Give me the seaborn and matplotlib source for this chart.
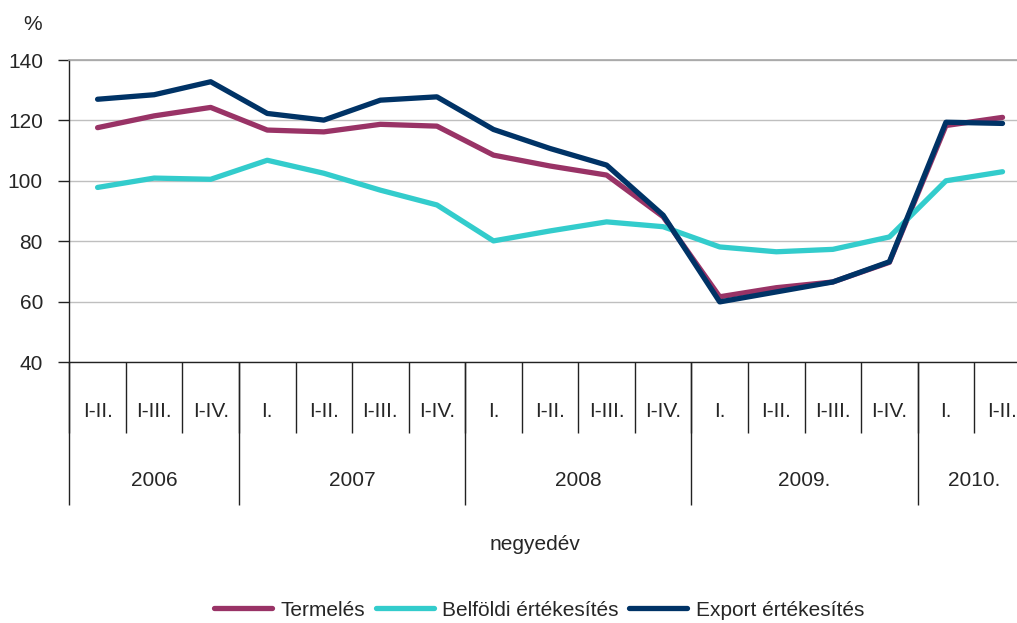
import numpy as np
import pandas as pd
import matplotlib
matplotlib.use("Agg")
import matplotlib.pyplot as plt
import seaborn as sns

# negyedéves kumulált időszakok
categories = ['I-II.', 'I-III.', 'I-IV.',
              'I.', 'I-II.', 'I-III.', 'I-IV.',
              'I.', 'I-II.', 'I-III.', 'I-IV.',
              'I.', 'I-II.', 'I-III.', 'I-IV.',
              'I.', 'I-II.']
years = ['2006', '2007', '2008', '2009.', '2010.']
year_sizes = [3, 4, 4, 4, 2]

termeles = [117.6, 121.5, 124.3, 116.8, 116.2, 118.7, 118.1, 108.5, 104.9,
            101.9, 88.1, 61.6, 64.6, 66.5, 73.0, 118.3, 121.0]
belfoldi = [97.8, 100.9, 100.5, 106.8, 102.5, 96.9, 92.0, 80.1, 83.4,
            86.4, 84.8, 78.1, 76.5, 77.3, 81.4, 100.0, 103.0]
export = [127.0, 128.5, 132.8, 122.3, 120.1, 126.7, 127.8, 117.0, 110.7,
          105.2, 88.6, 59.9, 63.2, 66.5, 73.2, 119.4, 119.0]

series_names = ['Termelés', 'Belföldi értékesítés', 'Export értékesítés']
colors = ['#993366', '#33CCCC', '#003366']

n = len(categories)
df = pd.concat([
    pd.DataFrame({'idx': np.arange(n), 'value': vals, 'series': name})
    for name, vals in zip(series_names, [termeles, belfoldi, export])
])

sns.set_theme(style="white")
plt.rcParams['font.family'] = ['Liberation Sans', 'DejaVu Sans']
FS = 15

fig = plt.figure(figsize=(10.17, 6.23), dpi=100)
ax = fig.add_axes([69.3 / 1017, 1 - 362 / 623, (1030.8 - 69.3) / 1017, 302 / 623])

sns.lineplot(data=df, x='idx', y='value', hue='series', hue_order=series_names,
             palette=colors, linewidth=3.8, ax=ax, legend=False, sort=True)
for ln in ax.get_lines():
    ln.set_solid_capstyle('round')
    ln.set_solid_joinstyle('round')

ax.set_xlim(-0.5, n - 0.5)
ax.set_ylim(40, 140)
ax.set_yticks(np.arange(40, 141, 20))
ax.yaxis.grid(True, color='#BFBFBF', linewidth=1.0)
ax.xaxis.grid(False)
ax.set_axisbelow(True)

ax.spines['right'].set_visible(False)
ax.spines['top'].set_color('#A6A6A6')
ax.spines['top'].set_linewidth(1.2)
for side in ['left', 'bottom']:
    ax.spines[side].set_color('#222222')
    ax.spines[side].set_linewidth(1.0)

ax.tick_params(axis='y', which='major', left=True, length=8, width=1.0,
               color='#222222', pad=11, labelsize=FS)

# kategória címkék és elválasztó osztásjelek
ax.set_xticks(np.arange(n))
ax.set_xticklabels(categories, fontsize=FS)
ax.set_xticks(np.arange(n + 1) - 0.5, minor=True)
ax.tick_params(axis='x', which='major', length=0, pad=29)
ax.tick_params(axis='x', which='minor', bottom=True, length=51, width=1.0,
               color='#222222')
ax.set_xlabel('')
ax.set_ylabel('')

# évek
trans = ax.get_xaxis_transform()
start = 0
bounds = [-0.5]
for yr, size in zip(years, year_sizes):
    mid = start + (size - 1) / 2
    ax.text(mid, -0.392, yr, transform=trans, ha='center', va='center', fontsize=FS)
    start += size
    bounds.append(start - 0.5)
ax.vlines(bounds, -0.4735, 0, transform=trans, colors='#222222', linewidth=1.0,
          clip_on=False)

fig.text(33 / 1017, 1 - 24 / 623, '%', ha='center', va='center', fontsize=FS)
fig.text(535 / 1017, 1 - 544 / 623, 'negyedév', ha='center', va='center', fontsize=FS)

handles = [plt.Line2D([], [], color=c, linewidth=3.8, solid_capstyle='round')
           for c in colors]
fig.legend(handles, series_names, loc='center', bbox_to_anchor=(539 / 1017, 1 - 610 / 623),
           ncol=3, frameon=False, fontsize=FS, handlelength=2.8, handletextpad=0.4,
           columnspacing=0.5, borderaxespad=0)

fig.savefig('out.png', dpi=100)
